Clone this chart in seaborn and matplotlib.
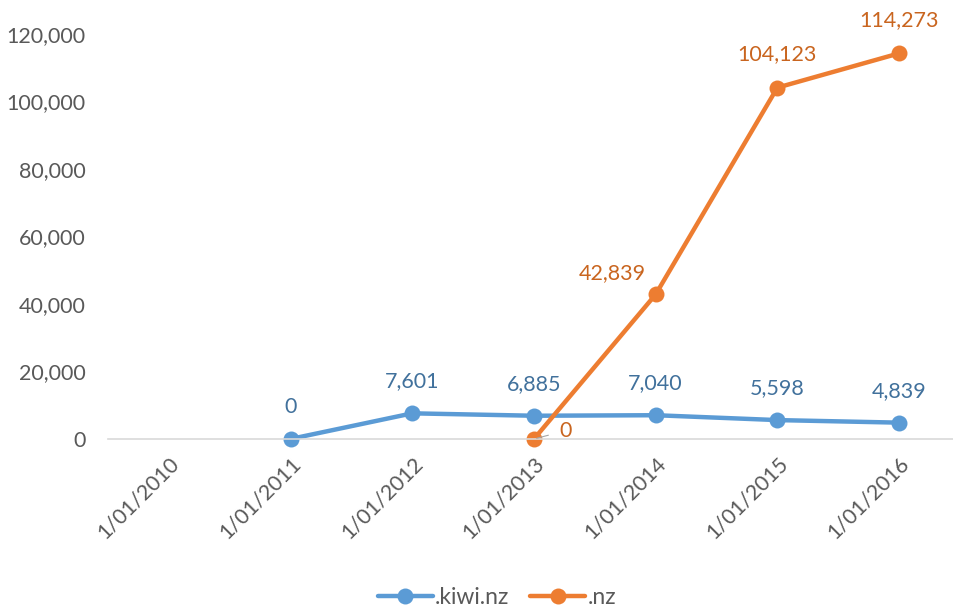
import numpy as np
import pandas as pd
import matplotlib.pyplot as plt
import seaborn as sns

# === data ===
dates = ['1/01/2010', '1/01/2011', '1/01/2012', '1/01/2013',
         '1/01/2014', '1/01/2015', '1/01/2016']
kiwi_nz = [np.nan, 0, 7601, 6885, 7040, 5598, 4839]
nz = [np.nan, np.nan, np.nan, 0, 42839, 104123, 114273]
series_names = ['.kiwi.nz', '.nz']

blue = '#5B9BD5'
orange = '#ED7D31'
blue_lab = '#41719C'
orange_lab = '#C9651F'
grey = '#595959'

pos = np.arange(len(dates))
df = pd.DataFrame({
    'pos': np.concatenate([pos, pos]),
    'value': kiwi_nz + nz,
    'series': [series_names[0]] * len(dates) + [series_names[1]] * len(dates),
}).dropna()

sns.set_style('white')
plt.rcParams['font.family'] = ['Lato', 'DejaVu Sans']

fig = plt.figure(figsize=(9.54, 6.08), dpi=100)
ax = fig.add_axes([0.1132, 0.278, 0.893, 0.666])

sns.lineplot(data=df, x='pos', y='value', hue='series',
             palette={series_names[0]: blue, series_names[1]: orange},
             marker='o', markersize=11.5, markeredgewidth=0, linewidth=3.2,
             ax=ax, legend=True)
for ln in ax.lines:
    ln.set_clip_on(False)

ax.set_xlim(-0.5, len(dates) - 0.5)
ax.set_ylim(0, 120000)
ax.set_xlabel('')
ax.set_ylabel('')

ax.set_yticks(range(0, 120001, 20000))
ax.set_yticklabels([f'{v:,}' for v in range(0, 120001, 20000)],
                   fontsize=15.5, color=grey)
ax.tick_params(axis='y', length=0, pad=16)

ax.set_xticks(pos)
ax.set_xticklabels(dates, rotation=45, ha='right', va='top',
                   rotation_mode='anchor', fontsize=15.5, color=grey)
ax.tick_params(axis='x', which='major', length=0, pad=10)
ax.set_xticks(np.arange(-0.5, len(dates), 1.0), minor=True)
ax.tick_params(axis='x', which='minor', length=7, width=1.2,
               color='#D9D9D9', direction='out')

for s in ['top', 'right', 'left']:
    ax.spines[s].set_visible(False)
ax.spines['bottom'].set_color('#D9D9D9')
ax.spines['bottom'].set_linewidth(1.2)

# data labels
for x, v in zip(pos, kiwi_nz):
    if not np.isnan(v):
        ax.annotate(f'{int(v):,}', (x, v), xytext=(0, 23),
                    textcoords='offset points', ha='center', va='center',
                    fontsize=15.5, color=blue_lab)

for x, v in zip(pos, nz):
    if np.isnan(v):
        continue
    if v == 0:
        ax.annotate(f'{int(v):,}', (x, v), xytext=(23, 6),
                    textcoords='offset points', ha='center', va='center',
                    fontsize=15.5, color=orange_lab,
                    arrowprops=dict(arrowstyle='-', color='#A6A6A6', lw=0.8,
                                    shrinkA=6, shrinkB=2))
    elif x == 4:
        ax.annotate(f'{int(v):,}', (x, v), xytext=(-31, 15),
                    textcoords='offset points', ha='center', va='center',
                    fontsize=15.5, color=orange_lab)
    else:
        ax.annotate(f'{int(v):,}', (x, v), xytext=(0, 24),
                    textcoords='offset points', ha='center', va='center',
                    fontsize=15.5, color=orange_lab)

leg = ax.legend(loc='center', bbox_to_anchor=(0.521, 0.018),
                bbox_transform=fig.transFigure, ncol=2, frameon=False,
                fontsize=16.5, handlelength=2.4, handletextpad=0.1,
                columnspacing=0.9)
for t in leg.get_texts():
    t.set_color(grey)

fig.savefig('out.png', dpi=100)
